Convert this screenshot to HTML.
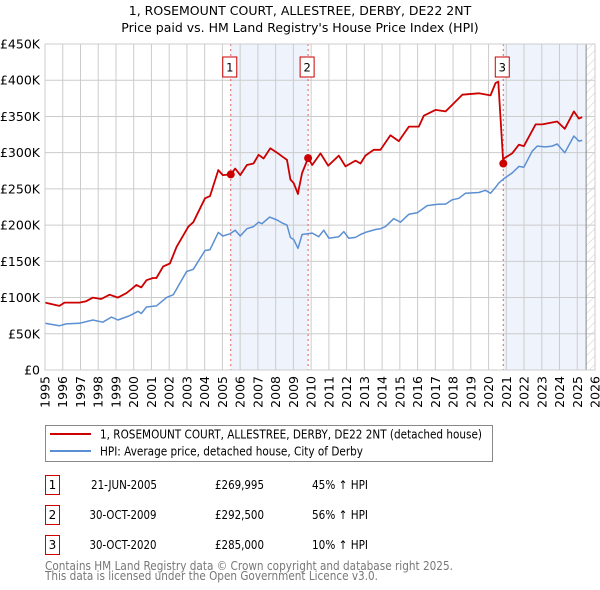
<!DOCTYPE html>
<html><head><meta charset="utf-8"><style>
body{margin:0;background:#fff;font-family:"DejaVu Sans","Liberation Sans",sans-serif}
svg{display:block}
</style></head><body>
<svg id="c" width="600" height="590" xmlns="http://www.w3.org/2000/svg" font-family="DejaVu Sans, Liberation Sans, sans-serif">
<defs><pattern id="hatch" width="6" height="6" patternUnits="userSpaceOnUse" patternTransform="rotate(45)"><line x1="0" y1="0" x2="0" y2="6" stroke="#ccc" stroke-width="1"/></pattern></defs>
<text x="300" y="15" text-anchor="middle" font-size="12.5">1, ROSEMOUNT COURT, ALLESTREE, DERBY, DE22 2NT</text>
<text x="300" y="32" text-anchor="middle" font-size="12.5">Price paid vs. HM Land Registry's House Price Index (HPI)</text>
<g id="plot"></g>
<g>
<rect x="45.5" y="425.5" width="447" height="36" fill="#fff" stroke="#888"/>
<line x1="50" y1="434" x2="91" y2="434" stroke="#cc0000" stroke-width="2"/>
<text x="100" y="438.5" font-size="12" textLength="382" lengthAdjust="spacingAndGlyphs">1, ROSEMOUNT COURT, ALLESTREE, DERBY, DE22 2NT (detached house)</text>
<line x1="50" y1="451" x2="91" y2="451" stroke="#5b8fd4" stroke-width="2"/>
<text x="100" y="455.5" font-size="12" textLength="263" lengthAdjust="spacingAndGlyphs">HPI: Average price, detached house, City of Derby</text>
</g>
<g id="table" font-size="12"></g>
<text x="45" y="570" font-size="12" fill="#777" textLength="408" lengthAdjust="spacingAndGlyphs">Contains HM Land Registry data © Crown copyright and database right 2025.</text>
<text x="45" y="580" font-size="12" fill="#777" textLength="333" lengthAdjust="spacingAndGlyphs">This data is licensed under the Open Government Licence v3.0.</text>
</svg>
<script>
const hpiYears=[1995.0,1995.81,1996.19,1996.94,1997.70,1998.26,1998.74,1999.11,1999.77,2000.25,2000.43,2000.72,2001.28,2001.85,2002.23,2002.98,2003.36,2004.02,2004.30,2004.77,2005.02,2005.43,2005.72,2006.0,2006.38,2006.75,2007.04,2007.23,2007.66,2008.08,2008.36,2008.64,2008.83,2009.02,2009.26,2009.49,2010.06,2010.43,2010.71,2011.0,2011.56,2011.84,2012.12,2012.5,2012.78,2013.06,2013.63,2013.91,2014.19,2014.66,2015.04,2015.51,2015.98,2016.54,2017.2,2017.58,2017.95,2018.33,2018.70,2019.45,2019.83,2020.11,2020.39,2020.58,2020.86,2021.33,2021.71,2021.99,2022.46,2022.74,2023.21,2023.59,2023.87,2024.30,2024.81,2025.09,2025.28];
const hpiValues=[64.5,61,63.6,64.5,69,66,73,69,75,81,78,87,88.5,100,104,136,139,165,166,190,185,188,193,185,195,198,204,202,211,207,203,200,183,180,168,187,189,184,193,182,184,191,182,183,187,190,194,195,198,209,204,215,217,227,229,229,235,237,244,245,248,244,252,258,264,272,281,280,302,309,308,309,312,300,323,316,317];
const priceYears=[1995.0,1995.81,1996.10,1996.94,1997.32,1997.70,1998.17,1998.64,1999.11,1999.58,1999.87,2000.15,2000.43,2000.72,2001.09,2001.28,2001.66,2002.04,2002.42,2003.08,2003.36,2004.02,2004.30,2004.77,2005.02,2005.47,2005.72,2006.0,2006.38,2006.75,2007.04,2007.32,2007.70,2008.08,2008.36,2008.64,2008.83,2009.02,2009.26,2009.30,2009.49,2009.83,2010.06,2010.53,2010.96,2011.56,2011.94,2012.5,2012.78,2013.06,2013.53,2013.91,2014.47,2014.94,2015.51,2016.07,2016.35,2017.01,2017.58,2017.95,2018.52,2019.45,2020.11,2020.39,2020.55,2020.83,2020.86,2021.33,2021.71,2021.99,2022.65,2023.03,2023.87,2024.30,2024.81,2025.09,2025.28];
const priceValues=[93,88.5,93,93,95,100,98,104,100,106,111.5,117.5,114,124,127,127,143,147,170,198,204,237,240,276,269,270,278,269,283,285,297,292,306,300,295,290,263,258,243,249,272,292.5,283,299,282,296,281,289,285,296,304,304,324,316,336,336,351,359,357,366,380,382,379,396,398,285,292,299,311,309,339,339,343,333,357,347,349];
const saleLabels=["1","2","3"];
const saleYears=[2005.47,2009.83,2020.83];
const saleValues=[269.995,292.5,285];
const saleDates=["21-JUN-2005","30-OCT-2009","30-OCT-2020"];
const salePrices=["£269,995","£292,500","£285,000"];
const saleHpi=["45% ↑ HPI","56% ↑ HPI","10% ↑ HPI"];
const yTicks=[0,50,100,150,200,250,300,350,400,450];
const yTickLabels=["£0","£50K","£100K","£150K","£200K","£250K","£300K","£350K","£400K","£450K"];
const xTicks=[1995,1996,1997,1998,1999,2000,2001,2002,2003,2004,2005,2006,2007,2008,2009,2010,2011,2012,2013,2014,2015,2016,2017,2018,2019,2020,2021,2022,2023,2024,2025,2026];
const dataEndYear=2025.5;

const L=45,R=595,T=44,B=370;
const x=y=>L+(y-1995)/(2026-1995)*(R-L);
const yv=v=>B-v/450*(B-T);
const NS="http://www.w3.org/2000/svg";
const plot=document.getElementById('plot');
function mk(tag,attrs,parent){const e=document.createElementNS(NS,tag);for(const k in attrs)e.setAttribute(k,attrs[k]);(parent||plot).appendChild(e);return e;}

let e;
e=mk('rect',{x:L,y:T,width:R-L,height:B-T,fill:'#fff'});


e=mk('rect',{x:x(saleYears[0]),y:T,width:x(saleYears[1])-x(saleYears[0]),height:B-T,fill:'#eef3fc'});


e=mk('rect',{x:x(saleYears[2]),y:T,width:x(dataEndYear)-x(saleYears[2]),height:B-T,fill:'#eef3fc'});


e=mk('rect',{x:x(dataEndYear),y:T,width:R-x(dataEndYear),height:B-T,fill:'url(#hatch)'});



yTicks.forEach((v,i)=>{
  e=mk('line',{x1:L,x2:R,y1:yv(v),y2:yv(v),stroke:'#ccc','stroke-width':1});
  
  
  e=mk('text',{x:L-5,y:yv(v)+4.5,'text-anchor':'end','font-size':12.5});
  e.textContent=yTickLabels[i];
  
  
});
xTicks.forEach(t=>{
  e=mk('line',{x1:x(t),x2:x(t),y1:T,y2:B,stroke:'#ccc','stroke-width':1});
  
  
  e=mk('text',{x:0,y:0,'text-anchor':'end','font-size':12.5,transform:`translate(${x(t)+4.5},${B+6}) rotate(-90)`});
  e.textContent=t;
  
  
});
e=mk('line',{x1:x(dataEndYear),x2:x(dataEndYear),y1:T,y2:B,stroke:'#888','stroke-width':1});



saleYears.forEach((s,i)=>{
  e=mk('line',{x1:x(s),x2:x(s),y1:T,y2:B,stroke:'#e06060','stroke-width':1,'stroke-dasharray':'2,3'});
  
  
});

function path(xs,vs){return xs.map((t,i)=>(i?'L':'M')+x(t).toFixed(1)+','+yv(vs[i]).toFixed(1)).join(' ');}
e=mk('path',{d:path(hpiYears,hpiValues),fill:'none',stroke:'#5b8fd4','stroke-width':1.5,'stroke-linejoin':'round'});


e=mk('path',{d:path(priceYears,priceValues),fill:'none',stroke:'#cc0000','stroke-width':1.8,'stroke-linejoin':'round'});



saleYears.forEach((s,i)=>{
  e=mk('circle',{cx:x(s),cy:yv(saleValues[i]),r:4,fill:'#cc0000'});
  
  
  const g=mk('g',{});
  
  
  mk('rect',{x:x(s)-8,y:57,width:14,height:20,fill:'#fff',stroke:'#cc0000'},g);
  const t=mk('text',{x:x(s)-1,y:71.5,'text-anchor':'middle','font-size':11.5},g);
  t.textContent=saleLabels[i];
});

e=mk('rect',{x:L,y:T,width:R-L,height:B-T,fill:'none',stroke:'#ccc'});



const tb=document.getElementById('table');
saleYears.forEach((s,i)=>{
  const y0=475+i*30;
  const g=mk('g',{},tb);
  
  
  mk('rect',{x:45.5,y:y0+0.5,width:14,height:19,fill:'#fff',stroke:'#cc0000'},g);
  let t=mk('text',{x:52.5,y:y0+14,'text-anchor':'middle'},g);t.textContent=saleLabels[i];
  t=mk('text',{x:i?89.5:91,y:y0+14,textLength:i?67:66,lengthAdjust:'spacingAndGlyphs'},g);t.textContent=saleDates[i];
  t=mk('text',{x:215,y:y0+14,textLength:49,lengthAdjust:'spacingAndGlyphs'},g);t.textContent=salePrices[i];
  t=mk('text',{x:312,y:y0+14,textLength:56,lengthAdjust:'spacingAndGlyphs'},g);t.textContent=saleHpi[i];
});
</script>
</body></html>
